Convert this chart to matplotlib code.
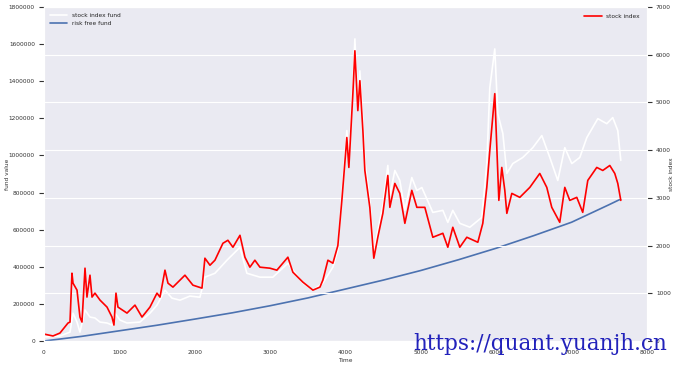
import matplotlib
matplotlib.use('Agg')
import matplotlib.pyplot as plt
import seaborn as sns
from matplotlib.ticker import FormatStrFormatter

# stock index (right axis)
idx_t = [0, 119, 212, 318, 345, 371, 385, 438, 477, 504, 544, 570, 610, 637, 676, 743, 836, 902,
         928, 955, 981, 1101, 1207, 1300, 1406, 1499, 1539, 1605, 1645, 1711, 1870, 1976, 2096,
         2135, 2202, 2268, 2374, 2440, 2507, 2600, 2666, 2732, 2798, 2865, 2997, 3090, 3236, 3302,
         3435, 3568, 3661, 3700, 3767, 3833, 3899, 3952, 4018, 4045, 4098, 4125, 4164, 4191, 4231,
         4257, 4323, 4376, 4429, 4496, 4562, 4589, 4655, 4721, 4788, 4880, 4947, 5053, 5159, 5292,
         5358, 5424, 5517, 5610, 5756, 5822, 5875, 5915, 5981, 6008, 6035, 6074, 6114, 6141, 6207,
         6313, 6446, 6578, 6671, 6737, 6843, 6910, 6976, 7069, 7148, 7215, 7334, 7414, 7507, 7573,
         7613, 7653]
idx_v = [146, 105, 167, 376, 397, 1421, 1212, 1066, 502, 397, 1526, 920, 1379, 920, 1003, 857, 711, 502,
         334, 1003, 711, 585, 752, 502, 711, 1003, 920, 1484, 1212, 1129, 1379, 1170, 1108,
         1735, 1588, 1693, 2048, 2111, 1965, 2215, 1756, 1547, 1693, 1547, 1526, 1484, 1756, 1442,
         1233, 1066, 1129, 1275, 1693, 1630, 2000, 2947, 4264, 3637, 5183, 6082, 4828, 5455, 4410,
         3574, 2801, 1735, 2174, 2675, 3469, 2801, 3302, 3093, 2466, 3156, 2801, 2801, 2174, 2257,
         1965, 2383, 1965, 2174, 2069, 2466, 3219, 3992, 5183, 4055, 2947, 3637, 3156, 2675, 3093,
         3010, 3219, 3511, 3219, 2801, 2487, 3219, 2947, 3010, 2696, 3365, 3637, 3574, 3678, 3511,
         3302, 2947]

# stock index fund (left axis)
fund_t = [0, 212, 345, 385, 438, 477, 544, 610, 676, 743, 836, 902, 942, 1008, 1101, 1273, 1406,
          1499, 1605, 1698, 1804, 1936, 2069, 2135, 2268, 2427, 2600, 2692, 2865, 3037, 3236, 3435,
          3568, 3700, 3833, 3899, 3952, 4018, 4045, 4098, 4125, 4164, 4191, 4231, 4257, 4323, 4376,
          4429, 4496, 4562, 4589, 4655, 4721, 4788, 4880, 4947, 5013, 5159, 5292, 5358, 5424, 5517,
          5650, 5809, 5875, 5915, 5981, 6021, 6088, 6141, 6220, 6353, 6486, 6605, 6711, 6817, 6910,
          7003, 7109, 7202, 7348, 7467, 7546, 7613, 7653]
fund_v = [21500, 27000, 48000, 150000, 102000, 48000, 167000, 129000, 124000, 102000, 97000, 86000,
          150000, 113000, 97000, 102000, 150000, 193000, 274000, 231000, 220000, 242000, 236000,
          344000, 365000, 435000, 505000, 365000, 344000, 344000, 419000, 312000, 274000, 312000,
          398000, 489000, 784000, 1134000, 972000, 1375000, 1628000, 1295000, 1456000, 1187000,
          972000, 758000, 478000, 596000, 731000, 946000, 784000, 919000, 865000, 704000, 881000,
          811000, 827000, 693000, 704000, 639000, 704000, 634000, 613000, 666000, 956000, 1365000,
          1574000, 1225000, 1118000, 903000, 956000, 989000, 1042000, 1107000, 989000, 865000,
          1042000, 956000, 989000, 1096000, 1198000, 1171000, 1204000, 1134000, 973000]

# risk free fund (left axis)
rf_t = [0, 500, 1000, 1500, 2000, 2500, 3000, 3500, 4000, 4500, 5000, 5500, 6000, 6500, 7000, 7500, 7653]
rf_v = [0, 25000, 55000, 85000, 118000, 152000, 190000, 232000, 280000, 328000, 380000, 438000,
        500000, 568000, 640000, 735000, 765000]

sns.set_style('darkgrid')
plt.rcParams['font.family'] = ['DejaVu Sans']
fs = 4.2

fig = plt.figure(figsize=(6.79, 3.66), dpi=100)
ax = fig.add_axes([0.0648, 0.0683, 0.888, 0.9127])
ax.plot(fund_t, fund_v, color='white', lw=1.2, label='stock index fund')
ax.plot(rf_t, rf_v, color='#4c72b0', lw=1.2, label='risk free fund')
ax.set_xlim(0, 8000)
ax.set_ylim(0, 1800000)
ax.set_yticks(range(0, 1800001, 200000))
ax.yaxis.set_major_formatter(FormatStrFormatter('%d'))
ax.grid(False)
ax.tick_params(labelsize=fs, pad=3, colors='#333333')
ax.set_xlabel('Time', fontsize=fs, labelpad=2, color='#333333')
ax.set_ylabel('fund value', fontsize=fs, color='#333333')
ax.yaxis.set_label_coords(-0.056, 0.5)
ax.legend(loc='upper left', fontsize=fs, frameon=False, handlelength=3, borderaxespad=0.6)

ax2 = ax.twinx()
ax2.plot(idx_t, idx_v, color='red', lw=1.2, label='stock index')
ax2.set_ylim(0, 7000)
ax2.set_yticks(range(0, 7001, 1000))
ax2.grid(True, color='white', lw=0.8)
ax2.tick_params(labelsize=fs, pad=3, colors='#333333')
ax2.set_ylabel('stock index', fontsize=fs, color='#333333')
ax2.yaxis.set_label_coords(1.036, 0.5)
ax2.legend(loc='upper right', fontsize=fs, frameon=False, handlelength=3, borderaxespad=0.8)

fig.text(0.608, 0.044, 'https://quant.yuanjh.cn', fontsize=15.5, color='#2222bb',
         family='DejaVu Serif')

fig.savefig('out.png', dpi=100)
